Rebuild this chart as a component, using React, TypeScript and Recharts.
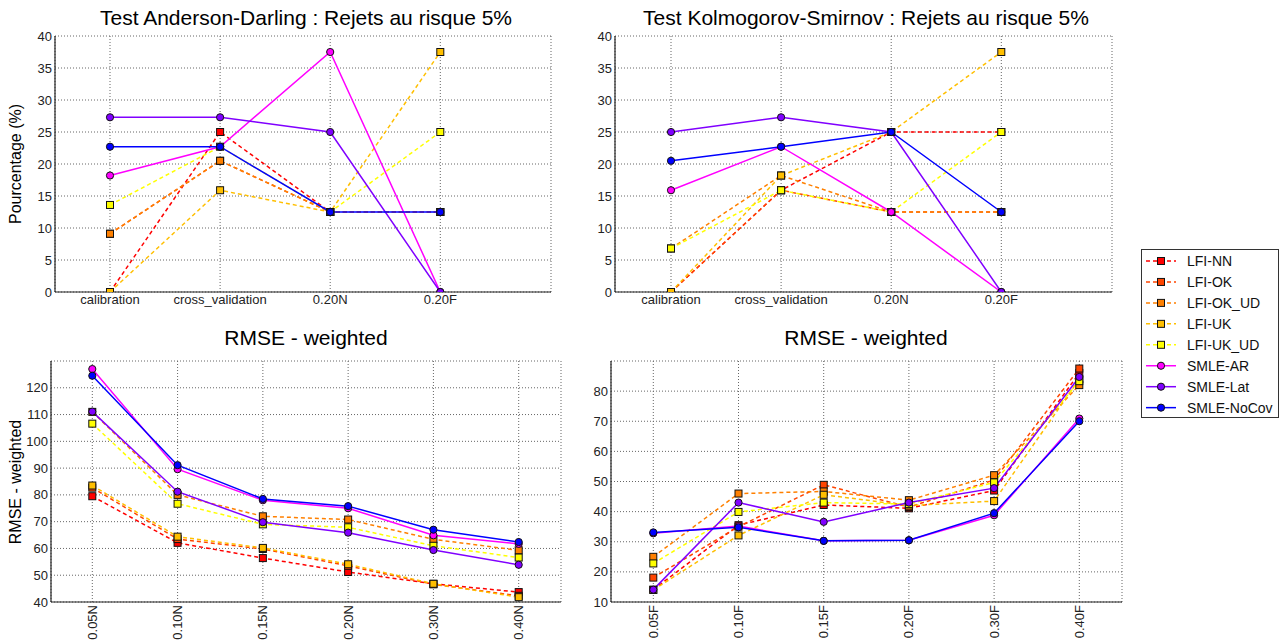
import React from 'react';
import { LineChart, Line, XAxis, YAxis, CartesianGrid } from 'recharts';

const FONT = '"Liberation Sans", Arial, Helvetica, sans-serif';

const SERIES = ['LFI-NN', 'LFI-OK', 'LFI-OK_UD', 'LFI-UK', 'LFI-UK_UD', 'SMLE-AR', 'SMLE-Lat', 'SMLE-NoCov'];

// Anderson-Darling rejections (%)
const AD_CATEGORIES = ['calibration', 'cross_validation', '0.20N', '0.20F'];
const AD_LFI_NN = [0, 25, 12.5, 12.5];
const AD_LFI_OK = [9.1, 20.5, 12.5, 12.5];
const AD_LFI_OK_UD = [9.1, 20.5, 12.5, 12.5];
const AD_LFI_UK = [0, 15.9, 12.5, 37.5];
const AD_LFI_UK_UD = [13.6, 22.7, 12.5, 25];
const AD_SMLE_AR = [18.2, 22.7, 37.5, 0];
const AD_SMLE_LAT = [27.3, 27.3, 25, 0];
const AD_SMLE_NOCOV = [22.7, 22.7, 12.5, 12.5];

// Kolmogorov-Smirnov rejections (%)
const KS_CATEGORIES = ['calibration', 'cross_validation', '0.20N', '0.20F'];
const KS_LFI_NN = [0, 15.9, 25, 25];
const KS_LFI_OK = [0, 15.9, 12.5, 12.5];
const KS_LFI_OK_UD = [6.8, 18.2, 12.5, 12.5];
const KS_LFI_UK = [0, 18.2, 25, 37.5];
const KS_LFI_UK_UD = [6.8, 15.9, 12.5, 25];
const KS_SMLE_AR = [15.9, 22.7, 12.5, 0];
const KS_SMLE_LAT = [25, 27.3, 25, 0];
const KS_SMLE_NOCOV = [20.5, 22.7, 25, 12.5];

// RMSE weighted, N cases
const N_CATEGORIES = ['0.05N', '0.10N', '0.15N', '0.20N', '0.30N', '0.40N'];
const N_LFI_NN = [79.5, 62.1, 56.4, 51.2, 46.8, 43.7];
const N_LFI_OK = [82.7, 63.5, 59.8, 53.5, 46.6, 42.3];
const N_LFI_OK_UD = [111, 80, 72, 70.8, 63.4, 59.3];
const N_LFI_UK = [83.5, 64.4, 60.2, 54.1, 46.8, 41.8];
const N_LFI_UK_UD = [106.6, 76.7, 69, 67.9, 61, 56.6];
const N_SMLE_AR = [127, 89.6, 78, 75, 64.9, 61.7];
const N_SMLE_LAT = [111.1, 81.2, 69.8, 65.9, 59.4, 53.9];
const N_SMLE_NOCOV = [124.5, 91.1, 78.5, 75.8, 67, 62.4];

// RMSE weighted, F cases
const F_CATEGORIES = ['0.05F', '0.10F', '0.15F', '0.20F', '0.30F', '0.40F'];
const F_LFI_NN = [14.1, 35.5, 42.2, 41.1, 47, 86];
const F_LFI_OK = [18.1, 35, 48.9, 41.5, 50.5, 87.5];
const F_LFI_OK_UD = [25, 46, 46.7, 43.8, 52.1, 82];
const F_LFI_UK = [14, 32.1, 45.6, 42, 43.5, 84];
const F_LFI_UK_UD = [22.8, 39.9, 43, 42.5, 49.7, 83.3];
const F_SMLE_AR = [32.8, 35.2, 30.3, 30.5, 38.8, 70.9];
const F_SMLE_LAT = [14.1, 43, 36.6, 43, 47.8, 84.7];
const F_SMLE_NOCOV = [33.1, 34.8, 30.3, 30.5, 39.5, 70];

const PCT_TICKS = [0, 5, 10, 15, 20, 25, 30, 35, 40];
const N_TICKS = [40, 50, 60, 70, 80, 90, 100, 110, 120];
const F_TICKS = [10, 20, 30, 40, 50, 60, 70, 80];

const COLORS = ['#ff0000', '#ff4500', '#ff8000', '#ffbf00', '#ffff00', '#ff00ff', '#8000ff', '#0000ff'];

const isSquare = (k: number) => k < 5;

const marker = (k: number) => (p: any) => {
  const { cx, cy, index } = p;
  if (cx == null || cy == null) return <g key={`m${k}-${index}`} />;
  if (isSquare(k)) {
    return <rect key={`m${k}-${index}`} x={cx - 3.5} y={cy - 3.5} width={7} height={7} fill={COLORS[k]} stroke="#111" strokeWidth={1} />;
  }
  return <circle key={`m${k}-${index}`} cx={cx} cy={cy} r={3.6} fill={COLORS[k]} stroke="#111" strokeWidth={1} />;
};

const YTick = (p: any) => (
  <text x={p.x} y={p.y} dy="0.35em" textAnchor="end" fontSize={13} fontFamily={FONT} fill="#222">
    {p.payload.value}
  </text>
);

const XTick = (p: any) => (
  <text x={p.x} y={p.y + 12} textAnchor="middle" fontSize={13} fontFamily={FONT} fill="#222">
    {p.payload.value}
  </text>
);

const RotTick = (p: any) => (
  <text x={p.x} y={p.y + 3} dy="0.35em" textAnchor="end" fontSize={13} fontFamily={FONT} fill="#222"
    transform={`rotate(-90 ${p.x} ${p.y + 3})`}>
    {p.payload.value}
  </text>
);

const AXIS_LINE = { stroke: '#222', strokeWidth: 1.2 };

type PanelProps = {
  plot: { x: number; y: number; w: number; h: number };
  categories: string[];
  values: number[][];
  domain: [number, number];
  ticks: number[];
  pad: [number, number];
  rotated?: boolean;
};

function Panel({ plot, categories, values, domain, ticks, pad, rotated }: PanelProps) {
  const data = categories.map((name, i) => {
    const row: Record<string, string | number> = { name };
    values.forEach((v, k) => { row[`s${k}`] = v[i]; });
    return row;
  });
  const ml = 50, mt = 10, mr = 10, xh = 40;
  return (
    <div style={{ position: 'absolute', left: plot.x - ml, top: plot.y - mt }}>
      <LineChart width={plot.w + ml + mr} height={plot.h + mt + xh} data={data}
        margin={{ top: mt, right: mr, left: 0, bottom: 0 }}>
        <CartesianGrid stroke="#666" strokeDasharray="1 2" />
        <XAxis dataKey="name" height={xh} interval={0} padding={{ left: pad[0], right: pad[1] }}
          axisLine={AXIS_LINE} tickLine={false} tickSize={0} tickMargin={0}
          tick={rotated ? <RotTick /> : <XTick />} />
        <XAxis xAxisId="top" orientation="top" dataKey="name" height={0} interval={0}
          padding={{ left: pad[0], right: pad[1] }} axisLine={AXIS_LINE} tickLine={false} tick={false} />
        <YAxis width={ml} type="number" domain={domain} ticks={ticks} allowDataOverflow
          axisLine={AXIS_LINE} tickLine={false} tickSize={0} tickMargin={3} tick={<YTick />} />
        <YAxis yAxisId="right" orientation="right" width={0} type="number" domain={domain} ticks={ticks}
          allowDataOverflow axisLine={AXIS_LINE} tickLine={false} tick={false} />
        {values.map((_, k) => (
          <Line key={k} dataKey={`s${k}`} name={SERIES[k]} stroke={COLORS[k]} strokeWidth={1.5}
            strokeDasharray={isSquare(k) ? '4 3' : undefined} dot={marker(k)} activeDot={false}
            isAnimationActive={false} />
        ))}
      </LineChart>
    </div>
  );
}

const Title = ({ x, y, text }: { x: number; y: number; text: string }) => (
  <div style={{ position: 'absolute', left: x, top: y, transform: 'translate(-50%, -50%)', whiteSpace: 'nowrap',
    fontFamily: FONT, fontSize: 21, color: '#000' }}>{text}</div>
);

const YLabel = ({ x, y, text }: { x: number; y: number; text: string }) => (
  <div style={{ position: 'absolute', left: x, top: y, transform: 'translate(-50%, -50%) rotate(-90deg)', whiteSpace: 'nowrap',
    fontFamily: FONT, fontSize: 16, color: '#000' }}>{text}</div>
);

function Legend() {
  return (
    <div style={{ position: 'absolute', left: 1141, top: 249, width: 136, height: 167, border: '1px solid #333',
      background: '#fff' }}>
      <svg width={136} height={167}>
        {SERIES.map((s, k) => {
          const y = 11 + k * 20.95;
          return (
            <g key={s}>
              <line x1={4} x2={34} y1={y} y2={y} stroke={COLORS[k]} strokeWidth={1.5}
                strokeDasharray={isSquare(k) ? '4 3' : undefined} />
              {isSquare(k)
                ? <rect x={15.5} y={y - 3.5} width={7} height={7} fill={COLORS[k]} stroke="#111" />
                : <circle cx={19} cy={y} r={3.6} fill={COLORS[k]} stroke="#111" />}
              <text x={45} y={y} dy="0.36em" fontSize={14} fontFamily={FONT} fill="#111">{s}</text>
            </g>
          );
        })}
      </svg>
    </div>
  );
}

export default function App() {
  return (
    <div style={{ position: 'absolute', left: 0, top: 0, width: 1279, height: 642, background: '#fff', overflow: 'hidden' }}>
      <Title x={306} y={18} text="Test Anderson-Darling : Rejets au risque 5%" />
      <Title x={866} y={18} text="Test Kolmogorov-Smirnov : Rejets au risque 5%" />
      <Title x={306} y={338} text="RMSE - weighted" />
      <Title x={866} y={338} text="RMSE - weighted" />
      <YLabel x={16} y={164} text="Pourcentage (%)" />
      <YLabel x={16} y={482} text="RMSE - weighted" />
      <Panel plot={{ x: 55, y: 36, w: 496, h: 256 }} categories={AD_CATEGORIES}
        values={[AD_LFI_NN, AD_LFI_OK, AD_LFI_OK_UD, AD_LFI_UK, AD_LFI_UK_UD, AD_SMLE_AR, AD_SMLE_LAT, AD_SMLE_NOCOV]}
        domain={[0, 40]} ticks={PCT_TICKS} pad={[55, 110.7]} />
      <Panel plot={{ x: 615, y: 36, w: 497, h: 256 }} categories={KS_CATEGORIES}
        values={[KS_LFI_NN, KS_LFI_OK, KS_LFI_OK_UD, KS_LFI_UK, KS_LFI_UK_UD, KS_SMLE_AR, KS_SMLE_LAT, KS_SMLE_NOCOV]}
        domain={[0, 40]} ticks={PCT_TICKS} pad={[56, 110.7]} />
      <Panel plot={{ x: 51, y: 361, w: 510, h: 241 }} categories={N_CATEGORIES}
        values={[N_LFI_NN, N_LFI_OK, N_LFI_OK_UD, N_LFI_UK, N_LFI_UK_UD, N_SMLE_AR, N_SMLE_LAT, N_SMLE_NOCOV]}
        domain={[40, 130]} ticks={N_TICKS} pad={[41.3, 42.3]} rotated />
      <Panel plot={{ x: 611, y: 361, w: 511, h: 241 }} categories={F_CATEGORIES}
        values={[F_LFI_NN, F_LFI_OK, F_LFI_OK_UD, F_LFI_UK, F_LFI_UK_UD, F_SMLE_AR, F_SMLE_LAT, F_SMLE_NOCOV]}
        domain={[10, 90]} ticks={F_TICKS} pad={[42.3, 42.7]} rotated />
      <Legend />
    </div>
  );
}
